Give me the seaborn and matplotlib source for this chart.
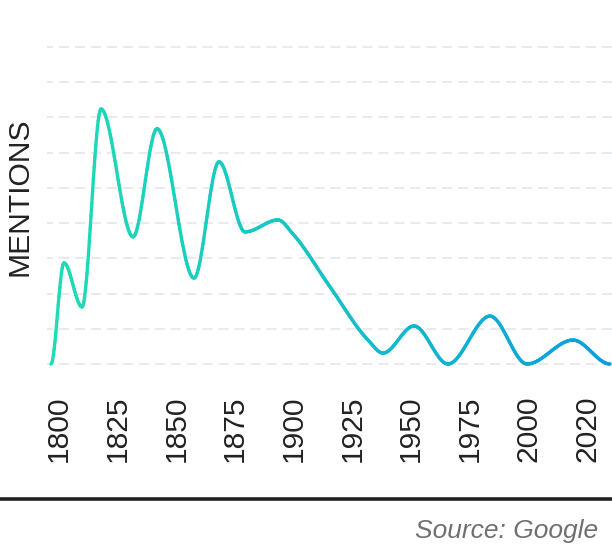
import numpy as np
import pandas as pd
import matplotlib
matplotlib.use("Agg")
import matplotlib.pyplot as plt
import seaborn as sns
from matplotlib.lines import Line2D
from matplotlib.colors import LinearSegmentedColormap

# ---- data ----
x_labels = ["1800", "1825", "1850", "1875", "1900", "1925", "1950", "1975", "2000", "2020"]
# positions of the curve's knots on the category axis (0 = "1800", 9 = "2020")
knot_pos = [-0.136, 0.085, 0.392, 0.716, 1.261, 1.670, 2.300, 2.726, 3.169, 3.731,
            3.986, 4.617, 5.264, 5.520, 6.048, 6.627, 7.342, 7.973, 8.756, 9.387]
mentions = [0.0, 2.87, 1.62, 7.24, 3.61, 6.68, 2.44, 5.74, 3.75, 4.09,
            3.69, 2.19, 0.68, 0.31, 1.08, 0.0, 1.36, 0.0, 0.68, 0.0]
grid_levels = list(range(10))


def monotone_curve(x, y, n=700):
    """Smooth monotone (Fritsch-Carlson) rendering of the knots, flat ends."""
    x = np.asarray(x, float)
    y = np.asarray(y, float)
    h = np.diff(x)
    dl = np.diff(y) / h
    d = np.zeros_like(y)
    for k in range(1, len(x) - 1):
        if dl[k - 1] * dl[k] > 0:
            w1 = 2 * h[k] + h[k - 1]
            w2 = h[k] + 2 * h[k - 1]
            d[k] = (w1 + w2) / (w1 / dl[k - 1] + w2 / dl[k])
    d[0] = 0.0
    d[-1] = 0.0
    xs = np.linspace(x[0], x[-1], n)
    idx = np.clip(np.searchsorted(x, xs) - 1, 0, len(x) - 2)
    t = (xs - x[idx]) / h[idx]
    h00 = 2 * t**3 - 3 * t**2 + 1
    h10 = t**3 - 2 * t**2 + t
    h01 = -2 * t**3 + 3 * t**2
    h11 = t**3 - t**2
    ys = h00 * y[idx] + h10 * h[idx] * d[idx] + h01 * y[idx + 1] + h11 * h[idx] * d[idx + 1]
    return xs, ys


sns.set_theme(style="white")
plt.rcParams["font.family"] = ["Liberation Sans", "DejaVu Sans"]
plt.rcParams["lines.scale_dashes"] = False
plt.rcParams["lines.solid_capstyle"] = "round"
plt.rcParams["lines.solid_joinstyle"] = "round"

W, H = 612, 544
fig = plt.figure(figsize=(W / 100, H / 100), dpi=100)
fig.patch.set_facecolor("white")

ax_top_px, ax_bot_px = 40, 380
ax = fig.add_axes([47 / W, 1 - ax_bot_px / H, 1 - 47 / W, (ax_bot_px - ax_top_px) / H])
ax.set_facecolor("white")

# curve with a left-to-right colour gradient
xs, ys = monotone_curve(knot_pos, mentions)
nseg = len(xs) - 1
cmap = LinearSegmentedColormap.from_list("g", ["#1edcb4", "#14c2c8", "#0b9de0"])
seg_ids = np.repeat(np.arange(nseg), 2)
pt_ids = np.concatenate([[i, i + 1] for i in range(nseg)])
df = pd.DataFrame({"x": xs[pt_ids], "y": ys[pt_ids], "seg": seg_ids})
palette = [cmap(i / (nseg - 1)) for i in range(nseg)]
sns.lineplot(data=df, x="x", y="y", hue="seg", palette=palette, legend=False,
             estimator=None, sort=False, linewidth=2.4, ax=ax, zorder=3)

# scales
px_per_unit = (364 - 47) / 9
ax.set_ylim(-(ax_bot_px - 364) / px_per_unit, 9 + (47 - ax_top_px) / px_per_unit)
ax.set_xlim((47 - 59) / 58.7, (612 - 59) / 58.7)

ax.set_yticks(grid_levels)
ax.yaxis.grid(True, color="#e3e6eb", linestyle=(2.9, (7.2, 4.3)), linewidth=1.2)
ax.xaxis.grid(False)
ax.set_axisbelow(True)
ax.tick_params(axis="y", length=0, labelleft=False)
ax.set_xticks(range(len(x_labels)))
ax.set_xticklabels(x_labels, rotation=90, fontsize=21.6, color="#222222")
ax.tick_params(axis="x", length=0, pad=11)
ax.set_xlabel("")
ax.set_ylabel("")
for s in ax.spines.values():
    s.set_visible(False)

fig.text(19.5 / W, 1 - 196.5 / H, "MENTIONS", rotation=90, ha="center", va="center",
         fontsize=21.6, color="#222222")

fig.add_artist(Line2D([0, 1], [1 - 499 / H, 1 - 499 / H], color="#222222",
                      linewidth=2.6, transform=fig.transFigure, solid_capstyle="butt"))

fig.text(598 / W, 1 - 538 / H, "Source: Google", ha="right", va="baseline",
         fontsize=19, color="#707070", style="italic")

fig.savefig("out.png", dpi=100, facecolor="white")
